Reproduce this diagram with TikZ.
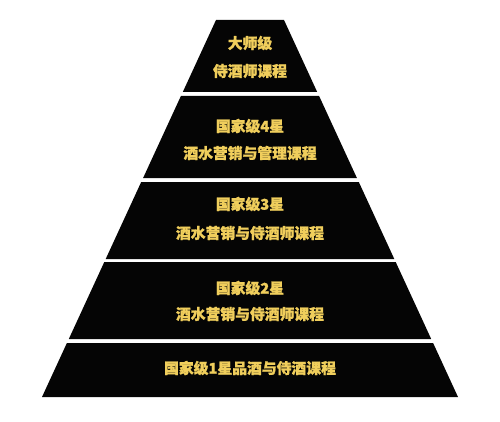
\documentclass[tikz,border=0pt]{standalone}
\usepackage{fontspec}
\newfontfamily\cjk[BoldFeatures={FakeBold=1.2}]{Noto Sans CJK SC}
\definecolor{gold}{RGB}{240,206,92}
\definecolor{layer}{RGB}{5,5,5}
\begin{document}
\begin{tikzpicture}[x=1pt,y=1pt,
  layerfill/.style={fill=layer},
  lbl/.style={text=gold,font=\cjk\bfseries\fontsize{14.8}{16}\selectfont,inner sep=0pt,anchor=center}]
\useasboundingbox (0,0) rectangle (500,421);
% layers (x = 250 +/- half width, y = 421 - pixel y)
\fill[layerfill] (216,401) -- (284,401) -- (317.2,329) -- (182.8,329) -- cycle;
\fill[layerfill] (180.9,325) -- (319.1,325) -- (356.9,243) -- (143.1,243) -- cycle;
\fill[layerfill] (141.2,239) -- (358.8,239) -- (394.3,162) -- (105.7,162) -- cycle;
\fill[layerfill] (104.3,159) -- (395.7,159) -- (431.2,82) -- (68.8,82) -- cycle;
\fill[layerfill] (66.9,78) -- (433.1,78) -- (458,24) -- (42,24) -- cycle;
% labels
\node[lbl] (l1a) at (250,378) {大师级};
\node[lbl] (l1b) at (250,350) {侍酒师课程};
\node[lbl] (l2a) at (250,295) {国家级4星};
\node[lbl] (l2b) at (250,268) {酒水营销与管理课程};
\node[lbl] (l3a) at (250,217) {国家级3星};
\node[lbl] (l3b) at (250,188) {酒水营销与侍酒师课程};
\node[lbl] (l4a) at (250,133) {国家级2星};
\node[lbl] (l4b) at (250,107) {酒水营销与侍酒师课程};
\node[lbl] (l5) at (250,53) {国家级1星品酒与侍酒课程};
\end{tikzpicture}
\end{document}
